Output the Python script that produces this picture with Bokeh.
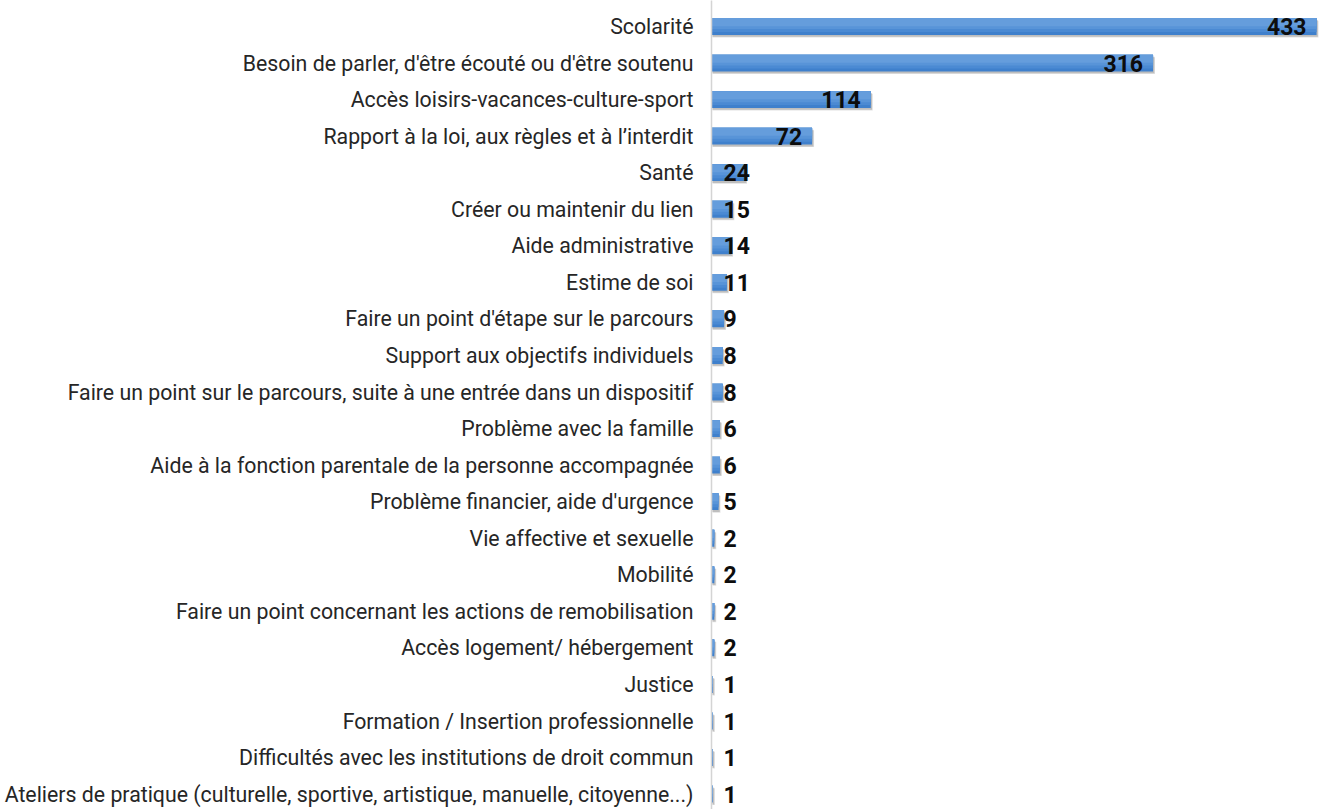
from bokeh.plotting import figure
from bokeh.models import ColumnDataSource, Range1d, FixedTicker
from bokeh.transform import dodge
from bokeh.embed import file_html
from bokeh.resources import INLINE
from bokeh.core.properties import value

categories = [
    "Scolarité",
    "Besoin de parler, d'être écouté ou d'être soutenu",
    "Accès loisirs-vacances-culture-sport",
    "Rapport à la loi, aux règles et à l’interdit",
    "Santé",
    "Créer ou maintenir du lien",
    "Aide administrative",
    "Estime de soi",
    "Faire un point d'étape sur le parcours",
    "Support aux objectifs individuels",
    "Faire un point sur le parcours, suite à une entrée dans un dispositif",
    "Problème avec la famille",
    "Aide à la fonction parentale de la personne accompagnée",
    "Problème financier, aide d'urgence",
    "Vie affective et sexuelle",
    "Mobilité",
    "Faire un point concernant les actions de remobilisation",
    "Accès logement/ hébergement",
    "Justice",
    "Formation / Insertion professionnelle",
    "Difficultés avec les institutions de droit commun",
    "Ateliers de pratique (culturelle, sportive, artistique, manuelle, citoyenne...)",
]
counts = [433, 316, 114, 72, 24, 15, 14, 11, 9, 8, 8, 6, 6, 5, 2, 2, 2, 2, 1, 1, 1, 1]

rows = list(range(len(categories)))
inside = [v >= 50 for v in counts]
src = ColumnDataSource(dict(
    y=rows,
    v=counts,
    label=[str(v) for v in counts],
    lx=[v if ins else 0 for v, ins in zip(counts, inside)],
    align=["right" if ins else "left" for ins in inside],
    xoff=[-10 if ins else 12 for ins in inside],
))

p = figure(width=1324, height=809, output_backend="svg", toolbar_location=None,
           x_range=Range1d(0, 438.7), y_range=Range1d(21.42, -0.711),
           min_border_left=711, min_border_right=0, min_border_top=0, min_border_bottom=0)
p.outline_line_color = None
p.grid.visible = False
p.xaxis.visible = False

# soft drop shadow
p.hbar(y=dodge("y", 0.07), right=dodge("v", 1.4), left=0.8, height=0.46, source=src,
       fill_color="#000000", fill_alpha=0.12, line_color=None)
p.hbar(y=dodge("y", 0.05), right=dodge("v", 0.9), left=0.5, height=0.46, source=src,
       fill_color="#000000", fill_alpha=0.15, line_color=None)

# bar body with a vertical gradient look (light top, darker bottom)
p.hbar(y="y", right="v", left=0, height=0.46, source=src,
       fill_color="#3f80cc", line_color=None)
p.hbar(y=dodge("y", -0.04), right="v", left=0, height=0.38, source=src,
       fill_color="#4b8ad3", line_color=None)
p.hbar(y=dodge("y", -0.08), right="v", left=0, height=0.30, source=src,
       fill_color="#5894d8", line_color=None)
p.hbar(y=dodge("y", -0.12), right="v", left=0, height=0.22, source=src,
       fill_color="#659ddc", line_color=None)

p.text(x="lx", y="y", text="label", source=src, text_align="align",
       x_offset="xoff", text_baseline="middle", text_font=value("Roboto"),
       text_font_style="bold", text_font_size="23px", text_color="#0d0d0d")

ax = p.yaxis[0]
ax.ticker = FixedTicker(ticks=rows)
ax.major_label_overrides = {i: c for i, c in zip(rows, categories)}
ax.major_tick_line_color = None
ax.minor_tick_line_color = None
ax.major_label_standoff = 12
ax.axis_line_color = "#d4d4d4"
ax.axis_line_width = 1.5
ax.major_label_text_font = "Roboto"
ax.major_label_text_font_size = "21.3px"
ax.major_label_text_color = "#262626"

open("out.html", "w").write(file_html(p, INLINE))
